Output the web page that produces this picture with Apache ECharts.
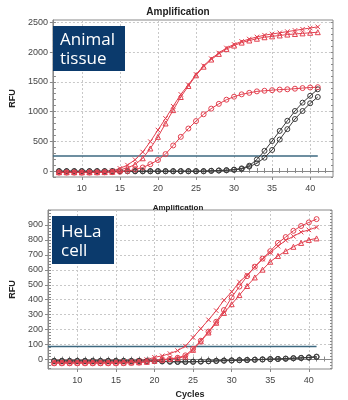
<!DOCTYPE html>
<html><head><meta charset="utf-8">
<script src="https://cdn.jsdelivr.net/npm/echarts@6/dist/echarts.min.js"></script>
<style>html,body{margin:0;padding:0;background:#fff}#c{width:348px;height:400px}</style>
</head><body><div id="c"></div>
<script>
const cycles = [7,8,9,10,11,12,13,14,15,16,17,18,19,20,21,22,23,24,25,26,27,28,29,30,31,32,33,34,35,36,37,38,39,40,41];

// Top panel: Animal tissue
const tRedX   = [-20,-20,-20,-20,-20,-18,-15,5,45,100,190,320,495,690,885,1090,1290,1450,1625,1770,1890,1985,2070,2130,2180,2220,2255,2285,2305,2325,2345,2365,2385,2405,2425];
const tRedTri = [-20,-20,-20,-22,-20,-20,-18,-12,20,55,110,215,380,575,800,1025,1245,1430,1610,1755,1875,1970,2050,2110,2160,2195,2225,2250,2265,2280,2295,2305,2315,2325,2335];
const tRedCirc= [-25,-25,-25,-25,-25,-22,-20,-18,-12,0,25,60,115,185,285,430,575,715,840,955,1050,1130,1200,1250,1290,1315,1340,1350,1360,1370,1375,1385,1395,1405,1410];
const tBlack1 = [0,0,0,0,0,0,0,0,0,0,0,0,0,0,0,0,0,0,0,0,5,10,15,25,45,90,195,340,505,675,845,1010,1150,1265,1375];
const tBlack2 = [-5,-5,-5,-5,-5,-5,-5,-5,-5,-5,-5,-5,-5,-5,-5,-5,-5,-5,-5,-5,3,8,12,20,35,75,130,225,355,530,705,875,1010,1140,1245];
const tThreshold = 255;
const tYLabels = [0,500,1000,1500,2000,2500];

// Bottom panel: HeLa cell
const bRedX   = [-15,-15,-14,-15,-15,-14,-15,-15,-14,-12,-10,-6,0,15,25,40,60,90,148,207,266,327,397,453,519,566,619,671,715,758,797,824,852,867,885];
const bRedCirc= [-25,-25,-25,-25,-25,-25,-25,-25,-25,-24,-22,-20,-15,-8,-3,5,12,28,72,126,187,253,331,416,488,558,621,675,725,780,819,861,893,917,939];
const bRedTri = [-20,-20,-20,-20,-20,-20,-20,-20,-20,-20,-19,-18,-15,-8,0,5,10,20,65,122,181,246,312,370,431,492,549,601,654,693,725,754,780,800,810];
const bBlack1 = [-8,-8,-8,-8,-8,-8,-8,-8,-8,-8,-8,-8,-8,-8,-10,-12,-14,-14,-14,-12,-10,-8,-6,-5,-3,-2,0,2,4,5,7,10,12,15,20];
const bBlack2 = [-10,-10,-11,-10,-10,-11,-10,-10,-11,-10,-11,-10,-11,-11,-13,-15,-16,-16,-15,-14,-12,-10,-8,-7,-5,-4,-2,0,2,3,5,8,10,13,17];
const bThreshold = 87;
const bYLabels = [0,100,200,300,400,500,600,700,800,900];

const xLabels = [10,15,20,25,30,35,40];
const xMinor = [7,8,9,10,11,12,13,14,15,16,17,18,19,20,21,22,23,24,25,26,27,28,29,30,31,32,33,34,35,36,37,38,39,40,41,42];

const RED = '#e2404f';
const BLK = '#3a3a3a';
const THR = '#3d6880';
const symX = 'path://M0,0L10,10M10,0L0,10';
const NX = 4, NY = 3;

function pairs(vals){ return cycles.map((c,i)=>[c, vals[i]]); }
function range(a,b,s){ const r=[]; for(let v=a; v<=b; v+=s) r.push(v); return r; }

function ser(vals, color, symbol, g){
  return {
    type:'line', xAxisIndex:g*NX, yAxisIndex:g*NY, data:pairs(vals),
    symbol:symbol, symbolSize:symbol===symX?4.5:5, showAllSymbol:true,
    lineStyle:{color:color, width:1},
    itemStyle:{color:'rgba(0,0,0,0)', borderColor:color, borderWidth:1},
    emphasis:{disabled:true}, animation:false, z:3
  };
}

const grids = [
  {left:46, top:20, right:15, height:157, show:true, borderColor:'#888', borderWidth:1},
  {left:47, top:210, right:16, height:162, show:true, borderColor:'#888', borderWidth:1}
];
const yCfg = [
  {min:-100, max:2540, labels:tYLabels, minor:range(-100,2500,100)},
  {min:-63, max:1000, labels:bYLabels, minor:range(-60,1000,20)}
];
const font = 'Liberation Sans';

const xAxes = [], yAxes = [];
for (let g=0; g<2; g++){
  xAxes.push({type:'value', gridIndex:g, min:6.2, max:43,
    axisLine:{show:true, lineStyle:{color:'#888'}},
    axisTick:{show:false, customValues:xLabels},
    axisLabel:{customValues:xLabels, color:'#444', fontSize:9, margin:7, fontFamily:font},
    splitLine:{show:true, lineStyle:{color:'#c8c8c8', type:[2,2], width:1}},
    name: g===1?'Cycles':'', nameLocation:'middle', nameGap:21,
    nameTextStyle:{fontSize:9, fontWeight:'bold', color:'#222', fontFamily:font}
  });
  xAxes.push({type:'value', gridIndex:g, min:6.2, max:43, position:'bottom',
    axisLine:{show:false}, axisLabel:{show:false}, splitLine:{show:false},
    axisTick:{show:true, inside:true, length:3, customValues:xMinor, lineStyle:{color:'#888'}}
  });
  xAxes.push({type:'value', gridIndex:g, min:6.2, max:43, position:'top',
    axisLine:{show:false}, axisLabel:{show:false}, splitLine:{show:false},
    axisTick:{show:true, inside:true, length:2, customValues:xMinor, lineStyle:{color:'#888'}}
  });
  xAxes.push({type:'value', gridIndex:g, min:6.2, max:43, position:'bottom',
    axisLine:{show:false}, axisLabel:{show:false}, splitLine:{show:false},
    axisTick:{show:true, inside:false, length:3, customValues:xLabels, lineStyle:{color:'#888'}}
  });
  const c = yCfg[g];
  yAxes.push({type:'value', gridIndex:g, min:c.min, max:c.max, position:'left',
    axisLine:{show:true, lineStyle:{color:'#888'}},
    axisTick:{show:true, customValues:c.labels, length:3, lineStyle:{color:'#888'}},
    axisLabel:{customValues:c.labels, color:'#444', fontSize:9, margin:5, fontFamily:font, formatter:(v)=>String(v)},
    splitLine:{show:true, lineStyle:{color:'#c8c8c8', type:[2,2], width:1}},
    name:'RFU', nameLocation:'middle', nameGap:31, nameRotate:90,
    nameTextStyle:{fontSize:9, fontWeight:'bold', color:'#222', fontFamily:font}
  });
  yAxes.push({type:'value', gridIndex:g, min:c.min, max:c.max, position:'left',
    axisLine:{show:false}, axisLabel:{show:false}, splitLine:{show:false},
    axisTick:{show:true, inside:true, length:3, customValues:c.minor, lineStyle:{color:'#888'}}
  });
  yAxes.push({type:'value', gridIndex:g, min:c.min, max:c.max, position:'right',
    axisLine:{show:false}, axisLabel:{show:false}, splitLine:{show:false},
    axisTick:{show:true, inside:true, length:2, customValues:c.minor, lineStyle:{color:'#888'}}
  });
}

function thr(val, g){
  return {type:'line', xAxisIndex:g*NX, yAxisIndex:g*NY, data:[[6.2,val],[41,val]],
    symbol:'none', lineStyle:{color:THR, width:1.5}, animation:false, z:2, silent:true};
}

const series = [
  thr(tThreshold,0),
  ser(tBlack2, BLK, 'circle', 0),
  ser(tBlack1, BLK, 'circle', 0),
  ser(tRedCirc, RED, 'circle', 0),
  ser(tRedTri, RED, 'triangle', 0),
  ser(tRedX, RED, symX, 0),
  thr(bThreshold,1),
  ser(bBlack2, BLK, 'circle', 1),
  ser(bBlack1, BLK, 'circle', 1),
  ser(bRedTri, RED, 'triangle', 1),
  ser(bRedCirc, RED, 'circle', 1),
  ser(bRedX, RED, symX, 1)
];

const chart = echarts.init(document.getElementById('c'), null, {renderer:'canvas'});
chart.setOption({
  animation:false,
  title:[
    {text:'Amplification', left:173, textAlign:'center', top:2, textStyle:{fontSize:10, fontWeight:'bold', color:'#222', fontFamily:font}},
    {text:'Amplification', left:173, textAlign:'center', top:199, textStyle:{fontSize:8, fontWeight:'bold', color:'#222', fontFamily:font}}
  ],
  grid:grids, xAxis:xAxes, yAxis:yAxes, series:series,
  graphic:[
    {type:'rect', shape:{x:53, y:26, width:72, height:45}, style:{fill:'#0b3a6c'}, z:10},
    {type:'text', x:60, y:40, style:{text:'Animal', fill:'#fff', font:'17px "Open Sans"', verticalAlign:'middle'}, z:11},
    {type:'text', x:60, y:59, style:{text:'tissue', fill:'#fff', font:'17px "Open Sans"', verticalAlign:'middle'}, z:11},
    {type:'rect', shape:{x:52, y:216, width:62, height:48}, style:{fill:'#0b3a6c'}, z:10},
    {type:'text', x:61, y:232, style:{text:'HeLa', fill:'#fff', font:'17px "Open Sans"', verticalAlign:'middle'}, z:11},
    {type:'text', x:61, y:251, style:{text:'cell', fill:'#fff', font:'17px "Open Sans"', verticalAlign:'middle'}, z:11}
  ]
});
</script></body></html>
